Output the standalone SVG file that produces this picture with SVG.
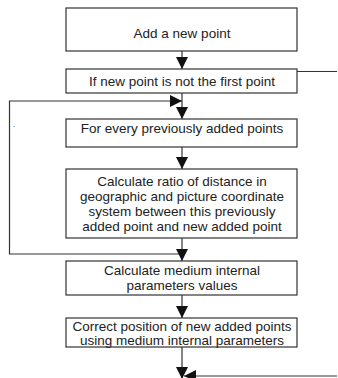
<svg xmlns="http://www.w3.org/2000/svg" width="338" height="378" viewBox="0 0 338 378">
<defs>
<marker id="ah" viewBox="0 0 12 12" refX="12" refY="6" markerWidth="12" markerHeight="12" markerUnits="userSpaceOnUse" orient="auto">
<path d="M0,0 L12,6 L0,12 Z" fill="#111"/>
</marker>
<style>
.box{fill:#fff;stroke:#333;stroke-width:1.2}
.t{font-family:"Liberation Sans",Arial,sans-serif;font-size:13.5px;fill:#222;text-anchor:middle}
.c{fill:none;stroke:#333;stroke-width:1.2}
</style>
</defs>
<rect width="338" height="378" fill="#fff"/>
<g id="connectors">
<line class="c" x1="182" y1="51" x2="182" y2="69" marker-end="url(#ah)"/>
<line class="c" x1="297" y1="71.5" x2="337" y2="71.5"/>
<line class="c" x1="182" y1="93" x2="182" y2="119" marker-end="url(#ah)"/>
<polyline class="c" points="182,254 9.5,254 9.5,101 182,101" marker-end="url(#ah)"/>
<line class="c" x1="182" y1="147" x2="182" y2="169" marker-end="url(#ah)"/>
<line class="c" x1="182" y1="238" x2="182" y2="261" marker-end="url(#ah)"/>
<line class="c" x1="182" y1="295" x2="182" y2="318" marker-end="url(#ah)"/>
<line class="c" x1="182" y1="347" x2="182" y2="379" marker-end="url(#ah)"/>
<line class="c" x1="337" y1="376" x2="184" y2="376" marker-end="url(#ah)"/>
</g>
<text x="13" y="127" style="font-family:'Liberation Sans',Arial,sans-serif;font-size:8px;fill:#333">.</text>
<g id="n1"><rect class="box" x="66" y="8" width="231" height="43"/><text class="t" x="182" y="38">Add a new point</text></g>
<g id="n2"><rect class="box" x="66" y="69" width="231" height="24"/><text class="t" x="182" y="86">If new point is not the first point</text></g>
<g id="n3"><rect class="box" x="66" y="119" width="231" height="28"/><text class="t" x="182" y="133">For every previously added points</text></g>
<g id="n4"><rect class="box" x="66" y="169" width="231" height="69"/>
<text class="t" x="182" y="186">Calculate ratio of distance in</text>
<text class="t" x="182" y="201">geographic and picture coordinate</text>
<text class="t" x="182" y="216">system between this previously</text>
<text class="t" x="182" y="231">added point and new added point</text></g>
<g id="n5"><rect class="box" x="66" y="261" width="231" height="34"/>
<text class="t" x="182" y="275">Calculate medium internal</text>
<text class="t" x="182" y="290">parameters values</text></g>
<g id="n6"><rect class="box" x="66" y="318" width="231" height="29"/>
<text class="t" x="182" y="331">Correct position of new added points</text>
<text class="t" x="182" y="345">using medium internal parameters</text></g>
</svg>
